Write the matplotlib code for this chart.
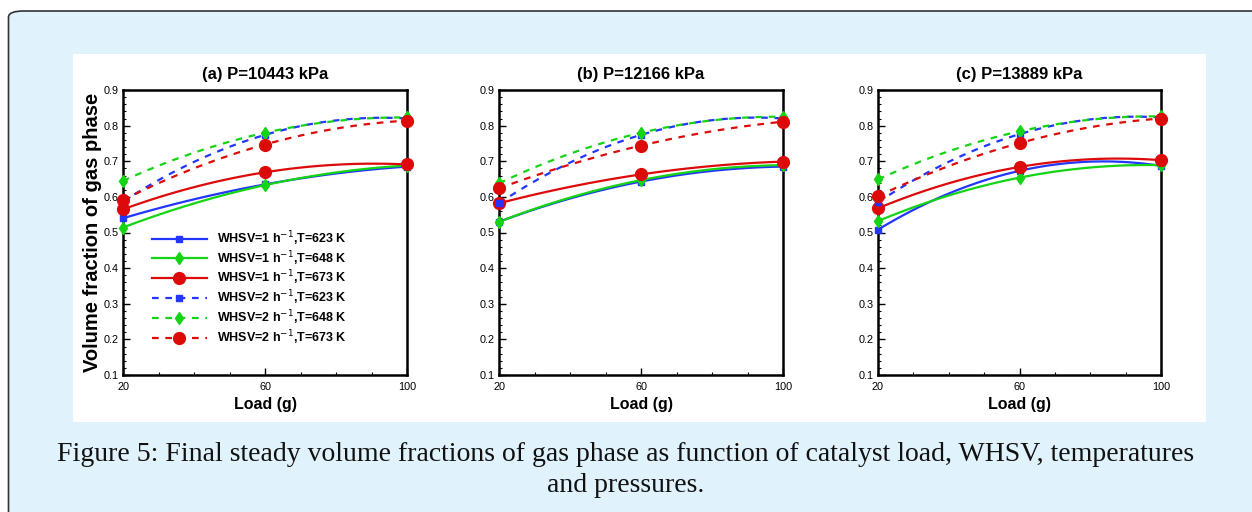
import numpy as np
import matplotlib
matplotlib.use("Agg")
import matplotlib.pyplot as plt
import matplotlib.ticker as ticker
from matplotlib.patches import FancyBboxPatch, Rectangle

# Data ==========================================
load = [20, 60, 100]
panel_titles = ['(a) P=10443 kPa', '(b) P=12166 kPa', '(c) P=13889 kPa']
series_labels = ['WHSV=1 h$^{-1}$,T=623 K', 'WHSV=1 h$^{-1}$,T=648 K', 'WHSV=1 h$^{-1}$,T=673 K',
                 'WHSV=2 h$^{-1}$,T=623 K', 'WHSV=2 h$^{-1}$,T=648 K', 'WHSV=2 h$^{-1}$,T=673 K']

vf_a = [[0.540, 0.635, 0.685],
        [0.514, 0.633, 0.688],
        [0.565, 0.669, 0.691],
        [0.587, 0.774, 0.820],
        [0.645, 0.780, 0.823],
        [0.591, 0.747, 0.814]]
vf_b = [[0.530, 0.643, 0.685],
        [0.530, 0.647, 0.689],
        [0.582, 0.663, 0.699],
        [0.582, 0.774, 0.820],
        [0.638, 0.780, 0.825],
        [0.624, 0.744, 0.811]]
vf_c = [[0.508, 0.673, 0.687],
        [0.532, 0.654, 0.689],
        [0.568, 0.684, 0.703],
        [0.585, 0.776, 0.823],
        [0.649, 0.784, 0.826],
        [0.602, 0.751, 0.820]]
panels = [vf_a, vf_b, vf_c]

caption = ('Figure 5: Final steady volume fractions of gas phase as function of catalyst load, WHSV, temperatures\n'
           'and pressures.')

# Styles ========================================
colors  = ['#2236ff', '#14d414', '#dd0a0a'] * 2
markers = ['s', 'd', 'o'] * 2
msizes  = [5, 6, 8.5] * 2
styles  = ['-'] * 3 + [(0, (3, 3))] * 3
sans    = ['Liberation Sans', 'DejaVu Sans']

W, H = 1252, 512
fig = plt.figure(figsize=(W / 100, H / 100), dpi=100, facecolor='white')

def px(x0, y0, x1, y1):
    return [x0 / W, 1 - y1 / H, (x1 - x0) / W, (y1 - y0) / H]

# page background ===
bg = FancyBboxPatch((8.5 / W, -0.2), 1.2, (H - 11) / H + 0.2, transform=fig.transFigure,
                    boxstyle='round,pad=0,rounding_size=0.012', facecolor='#e0f2fc',
                    edgecolor='#333333', linewidth=1.2, zorder=0)
fig.patches.append(bg)
fig.patches.append(Rectangle((73 / W, 1 - 422 / H), (1206 - 73) / W, (422 - 54) / H,
                             transform=fig.transFigure, facecolor='white', edgecolor='none', zorder=0.5))

boxes = [(123, 90, 407, 375), (499, 90, 783, 375), (878, 90, 1161, 375)]

for k, (vals, title) in enumerate(zip(panels, panel_titles)):
    ax = fig.add_axes(px(*boxes[k]))
    ax.set_zorder(2)
    ax.set_facecolor('white')
    xs = np.linspace(load[0], load[-1], 60)
    for i, v in enumerate(vals):
        fit = np.polyfit(load, v, 2)   # smooth curve through the three points
        ax.plot(xs, np.polyval(fit, xs), color=colors[i], linestyle=styles[i], lw=1.6, zorder=3)
        ax.plot(load, v, linestyle='none', marker=markers[i], ms=msizes[i], color=colors[i],
                clip_on=False, zorder=4)
        if k == 0:
            ax.plot([], [], color=colors[i], linestyle=styles[i], lw=1.6, marker=markers[i],
                    ms=msizes[i], label=series_labels[i])
    ax.set_xlim(20, 100)
    ax.set_ylim(0.1, 0.9)
    ax.xaxis.set_major_locator(ticker.FixedLocator(load))
    ax.xaxis.set_minor_locator(ticker.MultipleLocator(10))
    ax.yaxis.set_major_locator(ticker.MultipleLocator(0.1))
    ax.yaxis.set_minor_locator(ticker.MultipleLocator(0.02))
    ax.yaxis.set_major_formatter(ticker.FormatStrFormatter('%.1f'))
    ax.tick_params(which='both', direction='in', top=False, right=False, labelsize=7.8, pad=3)
    ax.tick_params(axis='x', which='both', pad=5)
    ax.tick_params(which='major', length=5, width=1)
    ax.tick_params(which='minor', length=2.5, width=0.8)
    for lab in ax.get_xticklabels() + ax.get_yticklabels():
        lab.set_family(sans)
    for sp in ax.spines.values():
        sp.set_linewidth(1.8)
    ax.set_title(title, fontsize=12, fontweight='bold', family=sans, pad=8)
    ax.set_xlabel('Load (g)', fontsize=11.5, fontweight='bold', family=sans, labelpad=4)
    if k == 0:
        ax.set_ylabel('Volume fraction of gas phase', fontsize=14.5, fontweight='bold',
                      family=sans, labelpad=1)
        ax.legend(loc='upper left', bbox_to_anchor=(0.102, 0.512), frameon=False, borderpad=0,
                  borderaxespad=0, handlelength=4.4, labelspacing=0.1, handletextpad=0.8,
                  prop={'family': sans, 'weight': 'bold', 'size': 9})

fig.text(0.5, 1 - 470 / H, caption, ha='center', va='center', fontsize=20,
         family=['Liberation Serif', 'DejaVu Serif'], linespacing=1.3, color='#111111')

fig.savefig('out.png', dpi=100, facecolor=fig.get_facecolor())
